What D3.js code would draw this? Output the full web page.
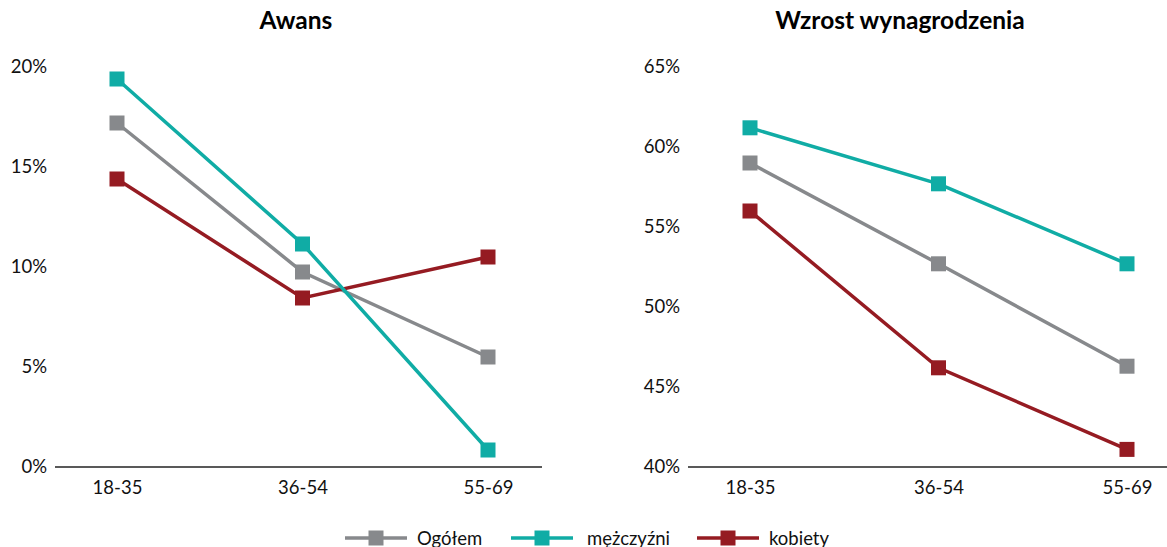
<!DOCTYPE html>
<html>
<head>
<meta charset="utf-8">
<script src="https://cdn.jsdelivr.net/npm/d3@7"></script>
<style>
  html, body { margin: 0; padding: 0; background: #fff; }
  svg { display: block; font-family: Lato, "Noto Sans", sans-serif; }
</style>
</head>
<body>
<svg id="chart" width="1167" height="547"></svg>
<script>
// Age groups on the x axis
const categories = ["18-35", "36-54", "55-69"];

// Promotion ("Awans"), percent
const awansOgolem    = [17.2, 9.75, 5.5];
const awansMezczyzni = [19.4, 11.15, 0.85];
const awansKobiety   = [14.4, 8.45, 10.5];

// Pay rise ("Wzrost wynagrodzenia"), percent
const wzrostOgolem    = [59.0, 52.7, 46.3];
const wzrostMezczyzni = [61.2, 57.7, 52.7];
const wzrostKobiety   = [56.0, 46.2, 41.1];

// Y-axis tick values, percent
const awansTicks  = [0, 5, 10, 15, 20];
const wzrostTicks = [40, 45, 50, 55, 60, 65];

const seriesNames = ["Ogółem", "mężczyźni", "kobiety"];
const colors = { "Ogółem": "#87898c", "mężczyźni": "#10aca5", "kobiety": "#951b22" };
// drawing order: grey at the back, teal in front
const drawOrder = ["Ogółem", "kobiety", "mężczyźni"];

const svg = d3.select("#chart");

const panels = [
  {
    title: "Awans",
    series: { "Ogółem": awansOgolem, "mężczyźni": awansMezczyzni, "kobiety": awansKobiety },
    ticks: awansTicks,
    domain: [0, 20],
    titleX: 296,
    axisX: 55, axisEnd: 542,
    xRange: [117, 488],
    labelRight: 47
  },
  {
    title: "Wzrost wynagrodzenia",
    series: { "Ogółem": wzrostOgolem, "mężczyźni": wzrostMezczyzni, "kobiety": wzrostKobiety },
    ticks: wzrostTicks,
    domain: [40, 65],
    titleX: 900,
    axisX: 688, axisEnd: 1167,
    xRange: [750, 1127],
    labelRight: 680
  }
];

const yTop = 67, yBottom = 467;
const markerSize = 15;
const labelSize = 18.5;

panels.forEach(p => {
  const g = svg.append("g");
  const x = d3.scalePoint().domain(categories).range(p.xRange);
  const y = d3.scaleLinear().domain(p.domain).range([yBottom, yTop]);

  // title
  g.append("text")
    .attr("x", p.titleX).attr("y", 29)
    .attr("text-anchor", "middle")
    .attr("font-weight", 700)
    .attr("font-size", 24.5)
    .attr("fill", "#000")
    .text(p.title);

  // y axis labels (no line, no ticks)
  const yAxis = g.append("g")
    .attr("transform", `translate(${p.labelRight},0)`)
    .call(d3.axisLeft(y).tickValues(p.ticks).tickSize(0).tickPadding(0).tickFormat(d => d + "%"));
  yAxis.select(".domain").remove();
  yAxis.selectAll("text").attr("font-size", labelSize).attr("fill", "#111").attr("font-family", "Lato, sans-serif");

  // x axis labels
  const xAxis = g.append("g")
    .attr("transform", `translate(0,${yBottom})`)
    .call(d3.axisBottom(x).tickSize(0).tickPadding(14));
  xAxis.select(".domain").remove();
  xAxis.selectAll("text").attr("font-size", labelSize).attr("fill", "#111").attr("font-family", "Lato, sans-serif");

  // baseline
  g.append("line")
    .attr("x1", p.axisX).attr("x2", p.axisEnd)
    .attr("y1", y(p.domain[0])).attr("y2", y(p.domain[0]))
    .attr("stroke", "#222").attr("stroke-width", 1.5);

  const line = d3.line().x((d, i) => x(categories[i])).y(d => y(d));

  drawOrder.forEach(name => {
    const vals = p.series[name];
    g.append("path")
      .datum(vals)
      .attr("d", line)
      .attr("fill", "none")
      .attr("stroke", colors[name])
      .attr("stroke-width", 3.5);
    g.selectAll(null)
      .data(vals)
      .join("rect")
      .attr("x", (d, i) => x(categories[i]) - markerSize / 2)
      .attr("y", d => y(d) - markerSize / 2)
      .attr("width", markerSize).attr("height", markerSize)
      .attr("fill", colors[name]);
  });
});

// legend
const legendItems = [
  { name: "Ogółem", x: 345, gap: 72 },
  { name: "mężczyźni", x: 511, gap: 76 },
  { name: "kobiety", x: 697, gap: 72 }
];
const ly = 538;
const lg = svg.append("g");
legendItems.forEach(it => {
  const c = colors[it.name];
  lg.append("line")
    .attr("x1", it.x).attr("x2", it.x + 62)
    .attr("y1", ly).attr("y2", ly)
    .attr("stroke", c).attr("stroke-width", 3.5);
  lg.append("rect")
    .attr("x", it.x + 31 - markerSize / 2).attr("y", ly - markerSize / 2)
    .attr("width", markerSize).attr("height", markerSize)
    .attr("fill", c);
  lg.append("text")
    .attr("x", it.x + it.gap).attr("y", ly + 6.5)
    .attr("font-size", labelSize).attr("fill", "#111")
    .text(it.name);
});
</script>
</body>
</html>
